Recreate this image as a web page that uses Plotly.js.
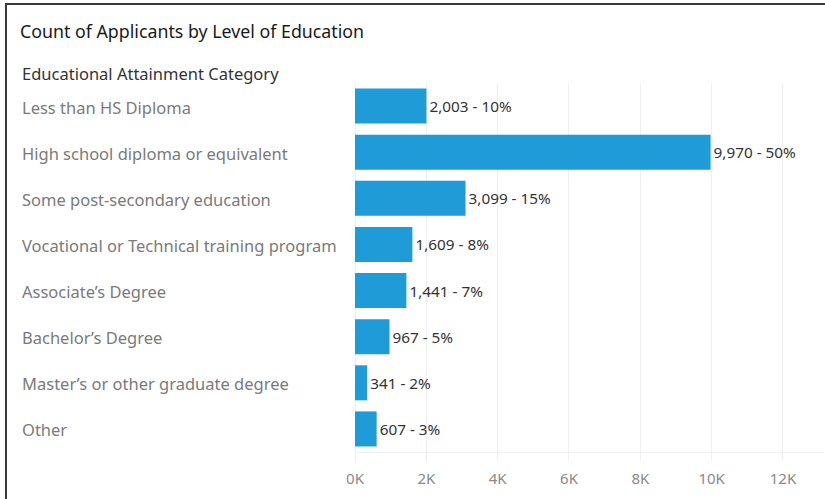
<!DOCTYPE html>
<html>
<head>
<meta charset="utf-8">
<script src="https://cdn.plot.ly/plotly-3.0.1.min.js"></script>
<style>
  html, body { margin: 0; padding: 0; background: #fff; }
  #wrap { position: relative; width: 825px; height: 499px; overflow: hidden; }
  #chart { position: absolute; left: 0; top: 0; width: 825px; height: 499px; }
  #frame { position: absolute; left: 5px; top: 3px; width: 900px; height: 600px;
           border-left: 2px solid #3a3a3a; border-top: 2px solid #3a3a3a; pointer-events: none; }
</style>
</head>
<body>
<div id="wrap"><div id="chart"></div><div id="frame"></div></div>
<script>
const chartTitle = "Count of Applicants by Level of Education";
const headerText = "Educational Attainment Category";
const categories = [
  "Less than HS Diploma",
  "High school diploma or equivalent",
  "Some post-secondary education",
  "Vocational or Technical training program",
  "Associate\u2019s Degree",
  "Bachelor\u2019s Degree",
  "Master\u2019s or other graduate degree",
  "Other"
];
const counts = [2003, 9970, 3099, 1609, 1441, 967, 341, 607];
const tickVals = [0, 2000, 4000, 6000, 8000, 10000, 12000];
const tickText = ["0K", "2K", "4K", "6K", "8K", "10K", "12K"];

const FONT = "'Noto Sans', sans-serif";
const total = counts.reduce((a, b) => a + b, 0);
const labels = counts.map(v => v.toLocaleString("en-US") + " - " + Math.round(v / total * 100) + "%");

const trace = {
  type: "bar",
  orientation: "h",
  y: categories,
  x: counts,
  marker: { color: "#1f9bd7" },
  text: labels,
  textposition: "outside",
  textfont: { family: FONT, size: 15.3, color: "#333333" },
  cliponaxis: false,
  hoverinfo: "none"
};

const annotations = categories.map(c => ({
  xref: "paper", yref: "y", x: -0.715, y: c, text: c,
  xanchor: "left", yanchor: "middle", yshift: -1, showarrow: false,
  font: { family: FONT, size: 16.5, color: "#7a7a7a" }
}));
annotations.push({
  xref: "paper", yref: "paper", x: -0.715, y: 1.0, text: headerText,
  xanchor: "left", yanchor: "middle", yshift: 10, showarrow: false,
  font: { family: FONT, size: 16.5, color: "#333333" }
});

const layout = {
  width: 825, height: 499,
  margin: { l: 355, r: 1, t: 83, b: 47, pad: 0 },
  paper_bgcolor: "rgba(0,0,0,0)",
  plot_bgcolor: "#ffffff",
  showlegend: false,
  bargap: 0.24,
  title: {
    text: chartTitle, xref: "container", yref: "container",
    x: 20 / 825, xanchor: "left", y: 1 - 32 / 499, yanchor: "middle",
    font: { family: FONT, size: 17.8, color: "#1a1a1a" }
  },
  xaxis: {
    range: [0, 13150], tickvals: tickVals, ticktext: tickText,
    showgrid: true, gridcolor: "#efefef", gridwidth: 1,
    zeroline: true, zerolinecolor: "#efefef", zerolinewidth: 1,
    showline: true, linecolor: "#efefef", linewidth: 1,
    ticks: "outside", ticklen: 8, tickcolor: "#efefef",
    ticklabelstandoff: 5,
    tickfont: { family: FONT, size: 15, color: "#8a8a8a" },
    fixedrange: true
  },
  yaxis: {
    autorange: "reversed", showticklabels: false, showgrid: false,
    zeroline: false, showline: false, ticks: "", fixedrange: true
  },
  annotations: annotations
};

Plotly.newPlot("chart", [trace], layout, { displayModeBar: false, staticPlot: true });
</script>
</body>
</html>
